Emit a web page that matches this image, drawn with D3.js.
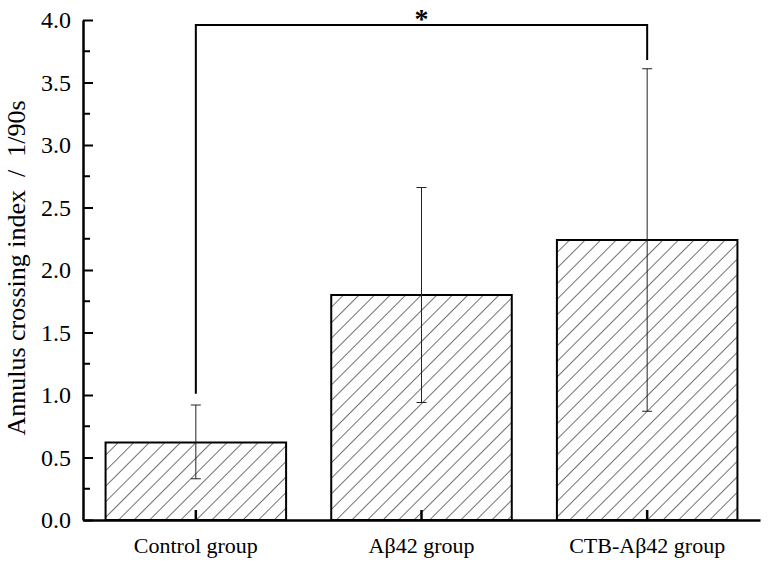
<!DOCTYPE html>
<html>
<head>
<meta charset="utf-8">
<script src="https://cdn.jsdelivr.net/npm/d3@7"></script>
<style>
  body { margin: 0; background: #fff; }
  text { font-family: "Liberation Serif", "Times New Roman", serif; }
</style>
</head>
<body>
<div id="root"></div>
<script>
// group names and measured means / error limits
var groups = ['Control group', 'A\u03b242 group', 'CTB-A\u03b242 group'];
var means = [0.62, 1.80, 2.24];
var errLow = [0.33, 0.94, 0.87];
var errHigh = [0.92, 2.66, 3.61];
var yTicks = [0, 0.5, 1.0, 1.5, 2.0, 2.5, 3.0, 3.5, 4.0];
var bracketStart = 1.01; // control leg bottom
var bracketEnd = 3.68;   // CTB leg bottom

var width = 768, height = 565;
var mLeft = 83, mRight = 760, mTop = 20, mBottom = 520;

var svg = d3.select('#root')
  .append('svg')
    .attr('width', width)
    .attr('height', height);

// hatch fill for the bars
svg.append('defs')
  .append('pattern')
    .attr('id', 'hatch')
    .attr('patternUnits', 'userSpaceOnUse')
    .attr('width', 11)
    .attr('height', 11)
    .attr('patternTransform', 'rotate(45)')
  .append('line')
    .attr('x1', 0).attr('y1', 0)
    .attr('x2', 0).attr('y2', 11)
    .attr('stroke', '#000')
    .attr('stroke-width', 1.1);

var x = d3.scaleBand()
  .domain(groups)
  .range([mLeft, mRight])
  .paddingInner(0.2)
  .paddingOuter(0.1);

var y = d3.scaleLinear()
  .domain([0, 4])
  .range([mBottom, mTop]);

// bars
svg.selectAll('rect.bar')
  .data(groups)
  .enter()
  .append('rect')
    .attr('class', 'bar')
    .attr('x', d => x(d))
    .attr('y', (d, i) => y(means[i]))
    .attr('width', x.bandwidth())
    .attr('height', (d, i) => y(0) - y(means[i]))
    .attr('fill', 'url(#hatch)')
    .attr('stroke', '#000')
    .attr('stroke-width', 2);

// error bars
var eb = svg.selectAll('g.err')
  .data(groups)
  .enter()
  .append('g')
    .attr('class', 'err')
    .attr('stroke', '#222')
    .attr('stroke-width', 1);

var cx = d => x(d) + x.bandwidth() / 2;
eb.append('line')
  .attr('x1', cx).attr('x2', cx)
  .attr('y1', (d, i) => y(errLow[i]))
  .attr('y2', (d, i) => y(errHigh[i]));
eb.append('line')
  .attr('x1', d => cx(d) - 5).attr('x2', d => cx(d) + 5)
  .attr('y1', (d, i) => y(errHigh[i]))
  .attr('y2', (d, i) => y(errHigh[i]));
eb.append('line')
  .attr('x1', d => cx(d) - 5).attr('x2', d => cx(d) + 5)
  .attr('y1', (d, i) => y(errLow[i]))
  .attr('y2', (d, i) => y(errLow[i]));

// y axis, ticks pointing inward
var yAxis = svg.append('g')
  .attr('transform', 'translate(' + mLeft + ',0)')
  .call(d3.axisLeft(y)
    .tickValues(yTicks)
    .tickFormat(d3.format('.1f'))
    .tickSizeInner(-10)
    .tickSizeOuter(0)
    .tickPadding(12));
yAxis.select('.domain').attr('stroke-width', 2.5);
yAxis.selectAll('.tick line').attr('stroke-width', 2);
yAxis.selectAll('.tick text')
  .style('font-family', '"Liberation Serif", serif')
  .style('font-size', '24px')
  .attr('fill', '#000');

// minor ticks
svg.append('g')
  .selectAll('line')
  .data(d3.range(0.25, 4, 0.5))
  .enter()
  .append('line')
    .attr('x1', mLeft).attr('x2', mLeft + 7)
    .attr('y1', d => y(d)).attr('y2', d => y(d))
    .attr('stroke', '#000')
    .attr('stroke-width', 2);

// x axis
var xAxis = svg.append('g')
  .attr('transform', 'translate(0,' + mBottom + ')')
  .call(d3.axisBottom(x)
    .tickSizeInner(-10)
    .tickSizeOuter(0)
    .tickPadding(17));
xAxis.select('.domain').attr('stroke-width', 2.5);
xAxis.selectAll('.tick line').attr('stroke-width', 2.5);
xAxis.selectAll('.tick text')
  .style('font-family', '"Liberation Serif", serif')
  .style('font-size', '22px')
  .attr('fill', '#000');

// y label
svg.append('text')
  .attr('transform', 'translate(25,' + 268 + ') rotate(-90)')
  .attr('text-anchor', 'middle')
  .style('font-size', '26px')
  .style('white-space', 'pre')
  .text('Annulus crossing index  /  1/90s');

// significance bracket
var bx1 = cx(groups[0]), bx2 = cx(groups[2]), by = 25;
svg.append('path')
  .attr('d', 'M' + bx1 + ',' + y(bracketStart) + 'V' + by + 'H' + bx2 + 'V' + y(bracketEnd))
  .attr('fill', 'none')
  .attr('stroke', '#000')
  .attr('stroke-width', 2);

svg.append('text')
  .attr('x', (bx1 + bx2) / 2)
  .attr('y', 28)
  .attr('text-anchor', 'middle')
  .style('font-size', '28px')
  .style('font-weight', 'bold')
  .text('*');
</script>
</body>
</html>
